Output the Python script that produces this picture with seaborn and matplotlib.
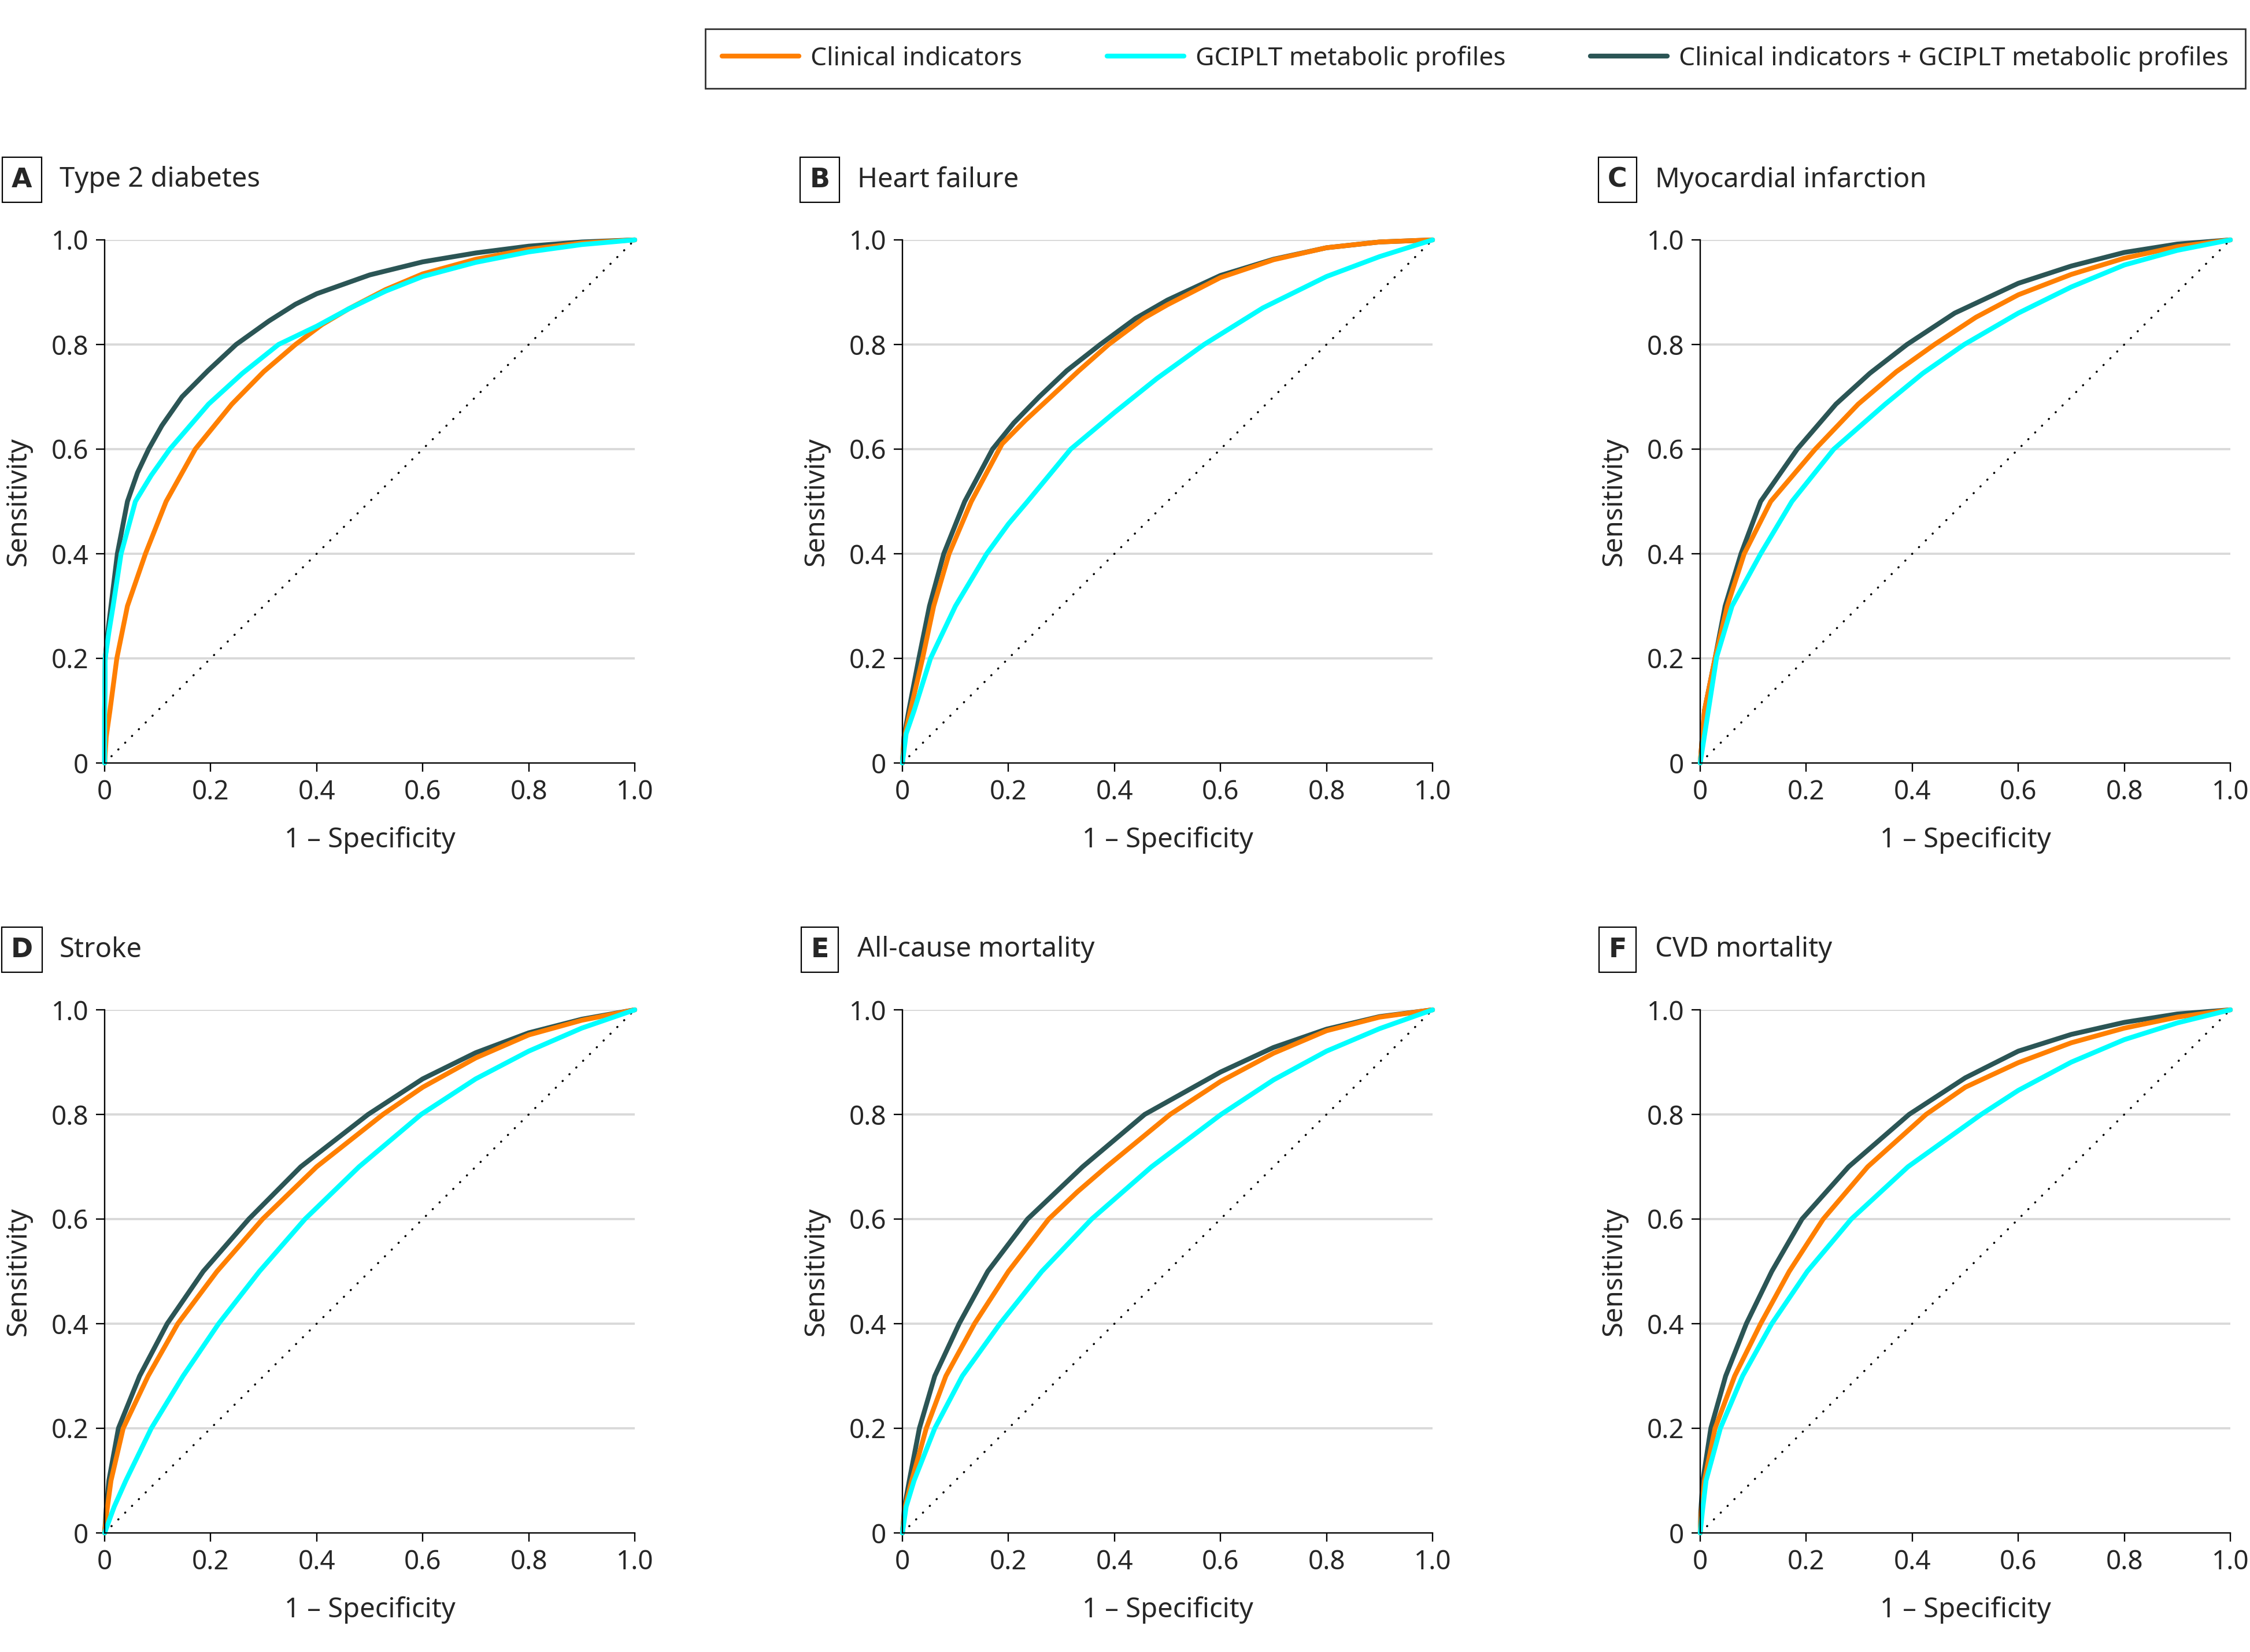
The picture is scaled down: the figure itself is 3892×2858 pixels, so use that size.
import seaborn as sns
import matplotlib.pyplot as plt
from matplotlib.lines import Line2D

# ROC curve points (fpr = 1 - specificity, tpr = sensitivity)
titles = ["Type 2 diabetes", "Heart failure", "Myocardial infarction",
          "Stroke", "All-cause mortality", "CVD mortality"]
letters = ["A", "B", "C", "D", "E", "F"]
series_names = ["Clinical indicators", "GCIPLT metabolic profiles",
                "Clinical indicators + GCIPLT metabolic profiles"]

# A - Type 2 diabetes
a_clin_fpr = [0, 0.003, 0.01, 0.023, 0.043, 0.077, 0.116, 0.171, 0.24, 0.3, 0.36, 0.41, 0.46, 0.53, 0.6, 0.7, 0.8, 0.9, 1]
a_clin_tpr = [0, 0.05, 0.1, 0.2, 0.3, 0.4, 0.5, 0.6, 0.686, 0.748, 0.8, 0.838, 0.868, 0.905, 0.935, 0.963, 0.982, 0.994, 1]
a_meta_fpr = [0, 0.0, 0.001, 0.008, 0.016, 0.031, 0.058, 0.088, 0.123, 0.196, 0.26, 0.328, 0.4, 0.46, 0.53, 0.6, 0.7, 0.8, 0.9, 1]
a_meta_tpr = [0, 0.1, 0.2, 0.25, 0.3, 0.4, 0.5, 0.55, 0.6, 0.686, 0.745, 0.8, 0.835, 0.868, 0.902, 0.93, 0.957, 0.977, 0.991, 1]
a_comb_fpr = [0, 0.0, 0.001, 0.006, 0.012, 0.024, 0.043, 0.062, 0.083, 0.108, 0.146, 0.195, 0.248, 0.31, 0.36, 0.4, 0.5, 0.6, 0.7, 0.8, 0.9, 1]
a_comb_tpr = [0, 0.1, 0.2, 0.25, 0.3, 0.4, 0.5, 0.555, 0.6, 0.645, 0.7, 0.75, 0.8, 0.845, 0.877, 0.897, 0.933, 0.958, 0.975, 0.988, 0.996, 1]

# B - Heart failure
b_clin_fpr = [0, 0.004, 0.015, 0.038, 0.059, 0.088, 0.13, 0.188, 0.232, 0.28, 0.333, 0.389, 0.455, 0.5, 0.6, 0.7, 0.8, 0.9, 1]
b_clin_tpr = [0, 0.05, 0.1, 0.2, 0.3, 0.4, 0.5, 0.61, 0.655, 0.7, 0.75, 0.8, 0.85, 0.876, 0.928, 0.962, 0.985, 0.996, 1]
b_meta_fpr = [0, 0.007, 0.022, 0.053, 0.1, 0.159, 0.2, 0.236, 0.3175, 0.4, 0.48, 0.569, 0.68, 0.8, 0.9, 1]
b_meta_tpr = [0, 0.056, 0.1, 0.2, 0.3, 0.4, 0.457, 0.5, 0.6, 0.67, 0.735, 0.8, 0.87, 0.93, 0.968, 1]
b_comb_fpr = [0, 0.003, 0.012, 0.031, 0.051, 0.078, 0.1175, 0.17, 0.21, 0.258, 0.31, 0.373, 0.44, 0.5, 0.6, 0.7, 0.8, 0.9, 1]
b_comb_tpr = [0, 0.05, 0.1, 0.2, 0.3, 0.4, 0.5, 0.6, 0.65, 0.7, 0.75, 0.8, 0.85, 0.885, 0.932, 0.963, 0.985, 0.996, 1]

# C - Myocardial infarction
c_clin_fpr = [0, 0.008, 0.028, 0.051, 0.083, 0.133, 0.217, 0.298, 0.37, 0.442, 0.52, 0.6, 0.7, 0.8, 0.9, 1]
c_clin_tpr = [0, 0.1, 0.2, 0.3, 0.4, 0.5, 0.6, 0.686, 0.748, 0.8, 0.852, 0.895, 0.934, 0.965, 0.987, 1]
c_meta_fpr = [0, 0.031, 0.06, 0.114, 0.173, 0.252, 0.349, 0.42, 0.498, 0.6, 0.7, 0.8, 0.9, 1]
c_meta_tpr = [0, 0.2025, 0.3, 0.4, 0.5, 0.6, 0.686, 0.745, 0.8, 0.86, 0.91, 0.952, 0.98, 1]
c_comb_fpr = [0, 0.008, 0.028, 0.047, 0.077, 0.114, 0.183, 0.256, 0.32, 0.39, 0.48, 0.6, 0.7, 0.8, 0.9, 1]
c_comb_tpr = [0, 0.1, 0.2, 0.3, 0.4, 0.5, 0.6, 0.686, 0.745, 0.8, 0.86, 0.917, 0.95, 0.976, 0.992, 1]

# D - Stroke
d_clin_fpr = [0, 0.004, 0.012, 0.035, 0.082, 0.138, 0.212, 0.298, 0.4, 0.525, 0.6, 0.7, 0.8, 0.9, 1]
d_clin_tpr = [0, 0.04, 0.1, 0.2, 0.3, 0.4, 0.5, 0.6, 0.7, 0.8, 0.852, 0.908, 0.952, 0.98, 1]
d_meta_fpr = [0, 0.018, 0.04, 0.088, 0.148, 0.215, 0.292, 0.378, 0.48, 0.597, 0.7, 0.8, 0.9, 1]
d_meta_tpr = [0, 0.05, 0.1, 0.2, 0.3, 0.4, 0.5, 0.6, 0.7, 0.8, 0.868, 0.921, 0.965, 1]
d_comb_fpr = [0, 0.003, 0.008, 0.026, 0.066, 0.118, 0.186, 0.272, 0.37, 0.497, 0.6, 0.7, 0.8, 0.9, 1]
d_comb_tpr = [0, 0.045, 0.1, 0.2, 0.3, 0.4, 0.5, 0.6, 0.7, 0.8, 0.868, 0.918, 0.956, 0.982, 1]

# E - All-cause mortality
e_clin_fpr = [0, 0.005, 0.0175, 0.045, 0.082, 0.136, 0.2, 0.276, 0.33, 0.385, 0.505, 0.6, 0.7, 0.8, 0.9, 1]
e_clin_tpr = [0, 0.05, 0.1, 0.2, 0.3, 0.4, 0.5, 0.6, 0.652, 0.7, 0.8, 0.863, 0.917, 0.96, 0.986, 1]
e_meta_fpr = [0, 0.007, 0.022, 0.061, 0.113, 0.184, 0.263, 0.357, 0.47, 0.601, 0.7, 0.8, 0.9, 1]
e_meta_tpr = [0, 0.05, 0.1, 0.2, 0.3, 0.4, 0.5, 0.6, 0.7, 0.8, 0.866, 0.921, 0.964, 1]
e_comb_fpr = [0, 0.004, 0.013, 0.032, 0.061, 0.107, 0.161, 0.236, 0.34, 0.457, 0.6, 0.7, 0.8, 0.9, 1]
e_comb_tpr = [0, 0.05, 0.1, 0.2, 0.3, 0.4, 0.5, 0.6, 0.7, 0.8, 0.881, 0.928, 0.963, 0.987, 1]

# F - CVD mortality
f_clin_fpr = [0, 0.002, 0.008, 0.028, 0.065, 0.114, 0.168, 0.232, 0.316, 0.426, 0.5, 0.6, 0.7, 0.8, 0.9, 1]
f_clin_tpr = [0, 0.04, 0.1, 0.2, 0.3, 0.4, 0.5, 0.6, 0.7, 0.8, 0.852, 0.899, 0.937, 0.965, 0.986, 1]
f_meta_fpr = [0, 0.004, 0.011, 0.038, 0.08, 0.135, 0.202, 0.285, 0.392, 0.53, 0.6, 0.7, 0.8, 0.9, 1]
f_meta_tpr = [0, 0.04, 0.1, 0.2, 0.3, 0.4, 0.5, 0.6, 0.7, 0.8, 0.846, 0.9, 0.943, 0.975, 1]
f_comb_fpr = [0, 0.001, 0.005, 0.02, 0.048, 0.087, 0.135, 0.192, 0.28, 0.394, 0.5, 0.6, 0.7, 0.8, 0.9, 1]
f_comb_tpr = [0, 0.04, 0.1, 0.2, 0.3, 0.4, 0.5, 0.6, 0.7, 0.8, 0.87, 0.921, 0.953, 0.976, 0.992, 1]

panels = [
    (a_clin_fpr, a_clin_tpr, a_meta_fpr, a_meta_tpr, a_comb_fpr, a_comb_tpr),
    (b_clin_fpr, b_clin_tpr, b_meta_fpr, b_meta_tpr, b_comb_fpr, b_comb_tpr),
    (c_clin_fpr, c_clin_tpr, c_meta_fpr, c_meta_tpr, c_comb_fpr, c_comb_tpr),
    (d_clin_fpr, d_clin_tpr, d_meta_fpr, d_meta_tpr, d_comb_fpr, d_comb_tpr),
    (e_clin_fpr, e_clin_tpr, e_meta_fpr, e_meta_tpr, e_comb_fpr, e_comb_tpr),
    (f_clin_fpr, f_clin_tpr, f_meta_fpr, f_meta_tpr, f_comb_fpr, f_comb_tpr),
]

ticks = [0, 0.2, 0.4, 0.6, 0.8, 1.0]
tick_labels = ["0", "0.2", "0.4", "0.6", "0.8", "1.0"]

c_clin = "#FF7F00"
c_meta = "#00FFFF"
c_comb = "#2B5555"

sns.set_theme(style="white")
plt.rcParams["font.family"] = ["Noto Sans", "DejaVu Sans"]

W, H = 3892, 2858
fig = plt.figure(figsize=(W / 100, H / 100), dpi=100)

lefts = [181, 1561, 2941]
tops = [415, 1747]
aw, ah = 917, 905
title_y = [311, 1643]
lw = 6

for i, (cf, ct, mf, mt, bf, bt) in enumerate(panels):
    r, c = divmod(i, 3)
    ax = fig.add_axes([lefts[c] / W, 1 - (tops[r] + ah) / H, aw / W, ah / H])
    for y in ticks[1:]:
        ax.axhline(y, color="#D9D9D9", lw=2.8, zorder=0)
    ax.plot([0, 1], [0, 1], color="black", ls=(0, (0.1, 4.5)), lw=2.6,
            dash_capstyle="round", zorder=1)
    sns.lineplot(x=bf, y=bt, ax=ax, color=c_comb, lw=lw, sort=False, estimator=None, clip_on=False)
    sns.lineplot(x=cf, y=ct, ax=ax, color=c_clin, lw=lw, sort=False, estimator=None, clip_on=False)
    sns.lineplot(x=mf, y=mt, ax=ax, color=c_meta, lw=lw, sort=False, estimator=None, clip_on=False)
    ax.set_xlim(0, 1)
    ax.set_ylim(0, 1)
    ax.set_xticks(ticks)
    ax.set_xticklabels(tick_labels)
    ax.set_yticks(ticks)
    ax.set_yticklabels(tick_labels)
    ax.tick_params(axis="both", which="major", direction="out", length=11, width=1.7,
                   color="black", labelsize=33, pad=9, bottom=True, left=True)
    for s in ["top", "right"]:
        ax.spines[s].set_visible(False)
    for s in ["left", "bottom"]:
        ax.spines[s].set_color("black")
        ax.spines[s].set_linewidth(1.7)
    ax.set_xlabel("1 – Specificity", fontsize=34, labelpad=26)
    ax.set_ylabel("Sensitivity", fontsize=34, labelpad=24)
    ax.grid(False)

    fig.text((lefts[c] - 143) / W, 1 - title_y[r] / H, letters[i], fontsize=33,
             fontweight="bold", family="DejaVu Sans", ha="center", va="center",
             bbox=dict(boxstyle="square,pad=0.35", fc="white", ec="black", lw=1.6))
    fig.text((lefts[c] - 78) / W, 1 - title_y[r] / H, titles[i], fontsize=34,
             ha="left", va="center")

handles = [Line2D([], [], color=c_clin, lw=lw),
           Line2D([], [], color=c_meta, lw=lw),
           Line2D([], [], color=c_comb, lw=lw)]
leg = fig.legend(handles, series_names, loc="upper right",
                 bbox_to_anchor=(3884 / W, 1 - 50 / H), ncol=3, fontsize=32,
                 frameon=True, fancybox=False, edgecolor="black", handlelength=3.0,
                 columnspacing=3.3, handletextpad=0.45, borderpad=0.65, borderaxespad=0)
leg.get_frame().set_linewidth(2)

fig.savefig("out.png", dpi=100, facecolor="white")
